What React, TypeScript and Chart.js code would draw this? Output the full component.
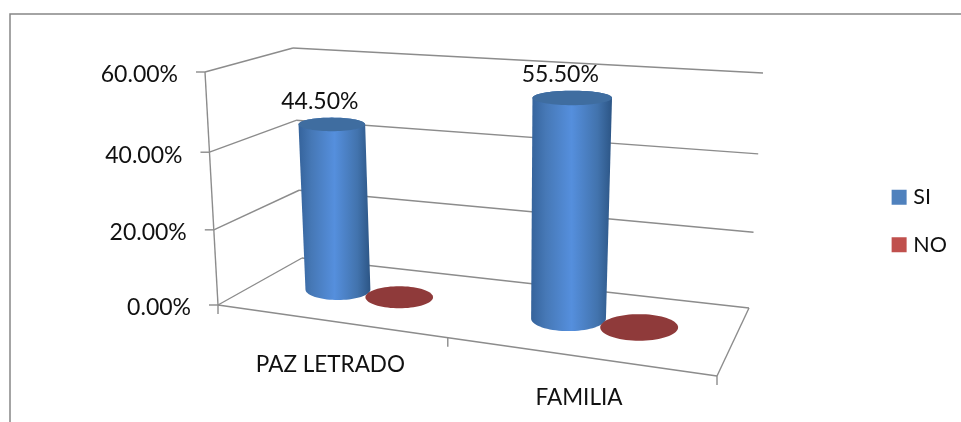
import React, { useEffect, useRef } from "react";
import { Chart, registerables } from "chart.js";

Chart.register(...registerables);

const categories = ["PAZ LETRADO", "FAMILIA"];
const seriesSI = [0.445, 0.555];
const seriesNO = [0, 0];
const seriesNames = ["SI", "NO"];
const yTicks = { min: 0, max: 0.6, step: 0.2 };

type Pt = [number, number];
const floorQuad: Pt[] = [[218, 305], [717, 376], [749, 308], [302, 258]];
const topQuad: Pt[] = [[205, 72], [737, 111], [763, 73], [293, 48]];
const DEPTH = 0.5;
const DEPTH_R = 0.21;
const PERSP = 1.05;
const FLOOR_WARP = 0.08;
const TOP_WARP = 0.12;
const GRID = "#8c8c8c";

function homography(q: Pt[]) {
  const [[x0, y0], [x1, y1], [x2, y2], [x3, y3]] = q;
  const dx1 = x1 - x2, dx2 = x3 - x2, sx = x0 - x1 + x2 - x3;
  const dy1 = y1 - y2, dy2 = y3 - y2, sy = y0 - y1 + y2 - y3;
  const den = dx1 * dy2 - dx2 * dy1;
  const g = (sx * dy2 - dx2 * sy) / den;
  const h = (dx1 * sy - sx * dy1) / den;
  const a = x1 - x0 + g * x1, b = x3 - x0 + h * x3;
  const d = y1 - y0 + g * y1, e = y3 - y0 + h * y3;
  return (u: number, w: number): Pt => {
    const z = g * u + h * w + 1;
    return [(a * u + b * w + x0) / z, (d * u + e * w + y0) / z];
  };
}
const floorH = homography(floorQuad);
const topH = homography(topQuad);

function project(u: number, d: number, v: number): Pt {
  const t = v / (PERSP - (PERSP - 1) * v);
  const f = floorH(u + FLOOR_WARP * u * (1 - u), d);
  const c = topH(u + TOP_WARP * u * (1 - u), d);
  return [f[0] + (c[0] - f[0]) * t, f[1] + (c[1] - f[1]) * t];
}

function hull(points: Pt[]): Pt[] {
  const p = [...points].sort((a, b) => a[0] - b[0] || a[1] - b[1]);
  const cross = (o: Pt, a: Pt, b: Pt) => (a[0] - o[0]) * (b[1] - o[1]) - (a[1] - o[1]) * (b[0] - o[0]);
  const lo: Pt[] = [];
  for (const q of p) {
    while (lo.length >= 2 && cross(lo[lo.length - 2], lo[lo.length - 1], q) <= 0) lo.pop();
    lo.push(q);
  }
  const up: Pt[] = [];
  for (const q of p.reverse()) {
    while (up.length >= 2 && cross(up[up.length - 2], up[up.length - 1], q) <= 0) up.pop();
    up.push(q);
  }
  return lo.slice(0, -1).concat(up.slice(0, -1));
}

function poly(ctx: CanvasRenderingContext2D, pts: Pt[]) {
  ctx.beginPath();
  pts.forEach((p, i) => (i ? ctx.lineTo(p[0], p[1]) : ctx.moveTo(p[0], p[1])));
  ctx.closePath();
}
function seg(ctx: CanvasRenderingContext2D, a: Pt, b: Pt) {
  ctx.beginPath();
  ctx.moveTo(a[0], a[1]);
  ctx.lineTo(b[0], b[1]);
  ctx.stroke();
}

const pct = (n: number) => (n * 100).toFixed(2) + "%";

const scene3d = {
  id: "scene3d",
  beforeDraw(chart: any) {
    const { ctx, scales, chartArea } = chart;
    ctx.save();
    ctx.strokeStyle = "#868686";
    ctx.lineWidth = 1.5;
    ctx.beginPath();
    ctx.moveTo(10, 422);
    ctx.lineTo(10, 14);
    ctx.lineTo(961, 14);
    ctx.stroke();

    ctx.strokeStyle = GRID;
    ctx.lineWidth = 1.4;
    ctx.fillStyle = "#111";
    const yS = scales.y;
    yS.ticks.forEach((t: any) => {
      const v = (chartArea.bottom - yS.getPixelForValue(t.value)) / chartArea.height;
      const a = project(0, 0, v), b = project(0, 1, v), c = project(1, 1, v);
      seg(ctx, a, b);
      seg(ctx, b, c);
      const tickEnd: Pt = [a[0] - 9, a[1]];
      seg(ctx, a, tickEnd);
      ctx.font = "23px Lato";
      ctx.textAlign = "right";
      ctx.textBaseline = "middle";
      ctx.fillText(pct(t.value), tickEnd[0] - 18, a[1] + 3);
    });
    seg(ctx, project(0, 0, 0), project(0, 0, 1));
    seg(ctx, project(0, 0, 0), project(1, 0, 0));
    seg(ctx, project(1, 0, 0), project(1, 1, 0));

    const xS = scales.x;
    const uOf = (px: number) => (px - chartArea.left) / chartArea.width;
    [chartArea.left, (chartArea.left + chartArea.right) / 2, chartArea.right].forEach((px) => {
      const p = project(uOf(px), 0, 0);
      seg(ctx, p, [p[0], p[1] + 9]);
    });
    ctx.font = "22.5px Lato";
    ctx.textAlign = "center";
    categories.forEach((c, i) => {
      const u = uOf(xS.getPixelForValue(i));
      const p = project(u, 0, 0);
      ctx.fillText(c, p[0] + 2, p[1] + 45 - 5 * u);
    });
    ctx.restore();
  },
  beforeDatasetsDraw(chart: any) {
    const { ctx, chartArea } = chart;
    const uOf = (px: number) => (px - chartArea.left) / chartArea.width;
    const ring = (u: number, ru: number, v: number) => {
      const c = project(u, DEPTH, v);
      const rx = Math.abs(project(u + ru, DEPTH, v)[0] - project(u - ru, DEPTH, v)[0]) / 2;
      const ry = Math.abs(project(u, DEPTH + DEPTH_R, v)[1] - project(u, DEPTH - DEPTH_R, v)[1]) / 2;
      const pts: Pt[] = [];
      for (let k = 0; k < 72; k++) {
        const th = (k / 72) * Math.PI * 2;
        pts.push([c[0] + rx * Math.cos(th), c[1] + ry * Math.sin(th)]);
      }
      return pts;
    };
    ctx.save();
    const labels: { text: string; at: Pt }[] = [];
    chart.data.datasets.forEach((ds: any, di: number) => {
      const meta = chart.getDatasetMeta(di);
      meta.data.forEach((el: any, i: number) => {
        const u = uOf(el.x);
        const ru = el.width / 2 / chartArea.width;
        const v = (chartArea.bottom - el.y) / chartArea.height;
        const bottom = ring(u, ru, 0);
        if (ds.data[i] === 0) {
          poly(ctx, bottom);
          ctx.fillStyle = ds.capColor;
          ctx.fill();
          return;
        }
        const top = ring(u, ru, v);
        const body = hull(bottom.concat(top));
        const xs = body.map((p) => p[0]);
        const x0 = Math.min(...xs), x1 = Math.max(...xs);
        const g = ctx.createLinearGradient(x0, 0, x1, 0);
        g.addColorStop(0, "#35639b");
        g.addColorStop(0.18, "#4678b6");
        g.addColorStop(0.5, "#558fdd");
        g.addColorStop(0.82, "#4273ad");
        g.addColorStop(1, "#2c5585");
        poly(ctx, body);
        ctx.fillStyle = g;
        ctx.fill();
        poly(ctx, top);
        ctx.fillStyle = ds.capColor;
        ctx.fill();
        const c = project(u, DEPTH, v);
        labels.push({ text: pct(ds.data[i]), at: [c[0] - 12, c[1] - 23] });
      });
    });
    ctx.fillStyle = "#111";
    ctx.font = "23px Lato";
    ctx.textAlign = "center";
    ctx.textBaseline = "middle";
    labels.forEach((l) => ctx.fillText(l.text, l.at[0], l.at[1]));
    ctx.restore();
    return false;
  },
};

export default function App() {
  const ref = useRef<HTMLCanvasElement>(null);
  useEffect(() => {
    const chart = new Chart(ref.current!, {
      type: "bar",
      data: {
        labels: categories,
        datasets: [
          { label: seriesNames[0], data: seriesSI, backgroundColor: "#4f81bd", capColor: "#3f6da0" } as any,
          { label: seriesNames[1], data: seriesNO, backgroundColor: "#c0504d", capColor: "#8f3a3a" } as any,
        ],
      },
      options: {
        responsive: false,
        animation: false,
        layout: { padding: { top: 20, right: 4 } },
        datasets: { bar: { categoryPercentage: 0.56, barPercentage: 1.08 } },
        scales: {
          x: { display: false },
          y: { display: false, min: yTicks.min, max: yTicks.max, ticks: { stepSize: yTicks.step } },
        },
        plugins: {
          tooltip: { enabled: false },
          legend: {
            position: "right",
            labels: {
              usePointStyle: true,
              pointStyle: "rect",
              boxWidth: 7,
              boxHeight: 15,
              padding: 26,
              color: "#111",
              font: { family: "Lato", size: 21.5 },
            },
          },
        },
      },
      plugins: [scene3d],
    } as any);
    return () => chart.destroy();
  }, []);
  return (
    <div style={{ position: "absolute", left: 0, top: 0, background: "#fff" }}>
      <canvas ref={ref} width={961} height={422} style={{ display: "block" }} />
    </div>
  );
}
